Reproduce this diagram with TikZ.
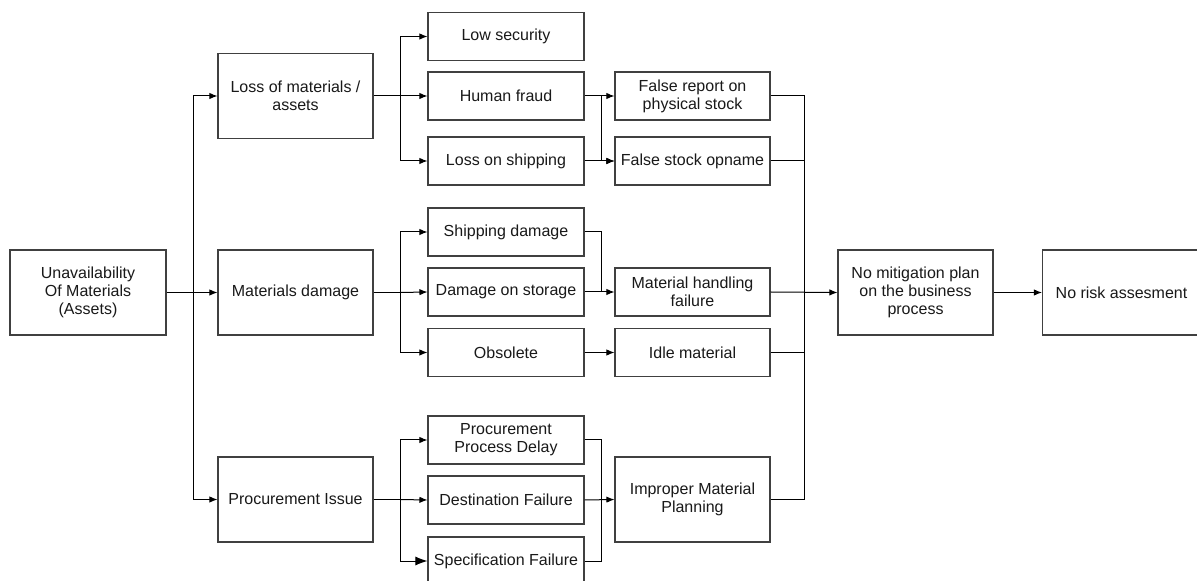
\documentclass[tikz,border=0pt]{standalone}
\usepackage{fontspec}
\setmainfont{Liberation Sans}
\usetikzlibrary{arrows.meta}
\begin{document}
\begin{tikzpicture}[x=0.5pt,y=-0.5pt,
  box/.style={draw=black!75,line width=0.55pt,inner sep=1pt,align=center,
    font=\fontsize{8pt}{9pt}\selectfont,text=black!90},
  bigbox/.style={box,minimum width=77.5pt,minimum height=42.5pt},
  smallbox/.style={box,minimum width=78pt,minimum height=24pt},
  ln/.style={draw=black,line width=0.5pt},
  arr/.style={ln,-{Latex[length=4pt,width=3.2pt]}}]
\clip (0,0) rectangle (1197,581);
\fill[white] (0,0) rectangle (1197,581);
% column 1
\node[bigbox,minimum width=78pt] (root) at (88,292.5) {Unavailability\\Of Materials\\(Assets)};
% column 2
\node[bigbox] (lm) at (295.5,96) {Loss of materials /\\assets};
\node[bigbox] (md) at (295.5,292.5) {Materials damage};
\node[bigbox] (pi) at (295.5,499.5) {Procurement Issue};
% column 3
\node[smallbox] (ls) at (506,36.5) {Low security};
\node[smallbox] (hf) at (506,96) {Human fraud};
\node[smallbox] (los) at (506,161) {Loss on shipping};
\node[smallbox] (sd) at (506,232) {Shipping damage};
\node[smallbox] (ds) at (506,292) {Damage on storage};
\node[smallbox] (ob) at (506,352.5) {Obsolete};
\node[smallbox] (ppd) at (506,440) {Procurement\\Process Delay};
\node[smallbox] (df) at (506,500) {Destination Failure};
\node[smallbox] (sf) at (506,561) {Specification Failure};
% column 4
\node[smallbox,minimum width=77.5pt] (fr) at (692.5,96) {False report on\\physical stock};
\node[smallbox,minimum width=77.5pt] (fso) at (692.5,161) {False stock opname};
\node[smallbox,minimum width=77.5pt] (mhf) at (692.5,292) {Material handling\\failure};
\node[smallbox,minimum width=77.5pt] (idle) at (692.5,352.5) {Idle material};
\node[bigbox] (imp) at (692.5,499.5) {Improper Material\\Planning};
% final
\node[bigbox] (mit) at (915.5,292.5) {No mitigation plan\\on the business\\process};
\node[bigbox,minimum width=79pt] (nr) at (1121.5,292.5) {No risk assesment};
% junction points
\coordinate (t) at (193,292.5);
\coordinate (b1) at (400,96);
\coordinate (b2) at (400,292.5);
\coordinate (b3) at (400,499.5);
\coordinate (c1) at (601,96);
\coordinate (c2) at (601,292);
\coordinate (c3) at (601,500);
\coordinate (r) at (804,292);
% root to column 2
\draw[arr] (root.east) -- (md.west);
\draw[arr] (t) |- (lm.west);
\draw[arr] (t) |- (pi.west);
% column 2 to column 3
\draw[ln] (lm.east) -- (b1);
\draw[arr] (b1) |- (ls.west);
\draw[arr] (b1) -- (hf.west);
\draw[arr] (b1) |- (los.west);
\draw[ln] (md.east) -- (b2);
\draw[arr] (b2) |- (sd.west);
\draw[arr] (b2) -- (ds.west);
\draw[arr] (b2) |- (ob.west);
\draw[ln] (pi.east) -- (b3);
\draw[arr] (b3) |- (ppd.west);
\draw[arr] (b3) -- (df.west);
\draw[arr,-{Latex[length=6pt,width=4.5pt]}] (b3) |- (sf.west);
% column 3 to column 4
\draw[arr] (hf.east) -- (fr.west);
\draw[arr] (c1) |- (fso.west);
\draw[arr] (los.east) -- (fso.west);
\draw[ln] (sd.east) -| (c2);
\draw[arr] (ds.east) -- (mhf.west);
\draw[arr] (ob.east) -- (idle.west);
\draw[ln] (ppd.east) -| (c3);
\draw[ln] (sf.east) -| (c3);
\draw[arr] (df.east) -- (imp.west);
% column 4 to final
\draw[ln] (fr.east) -| (r);
\draw[ln] (fso.east) -| (r);
\draw[ln] (idle.east) -| (r);
\draw[ln] (imp.east) -| (r);
\draw[arr] (mhf.east) -- (mit.west);
\draw[arr] (mit.east) -- (nr.west);
\end{tikzpicture}
\end{document}
